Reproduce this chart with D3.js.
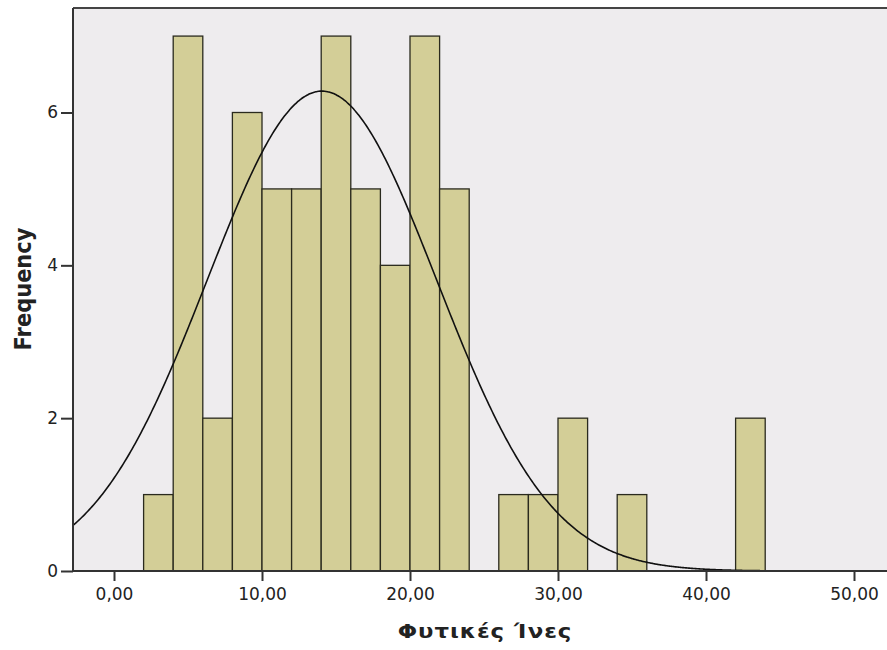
<!DOCTYPE html>
<html>
<head>
<meta charset="utf-8">
<script src="https://cdn.jsdelivr.net/npm/d3@7"></script>
<style>
  body { margin: 0; background: #fff; }
  text { font-family: "DejaVu Sans", Verdana, sans-serif; fill: #222; }
</style>
</head>
<body>
<div id="chart"></div>
<script>
const width = 887,
    height = 650;

// histogram bins (width 2) and counts
const binStarts = [2, 4, 6, 8, 10, 12, 14, 16, 18, 20, 22, 26, 28, 30, 34, 42];
const counts    = [1, 7, 2, 6, 5, 5, 7, 5, 4, 7, 5, 1, 1, 2, 1, 2];
const binWidth = 2;

// normal curve parameters
const mean = 14.05, sd = 7.75, n = 61;

const xTicks = [0, 10, 20, 30, 40, 50];
const yTicks = [0, 2, 4, 6];

const plot = { left: 73, top: 8, right: 900, bottom: 571 };

const x = d3.scaleLinear().domain([0, 50]).range([114, 854]);
const y = d3.scaleLinear().domain([0, 6]).range([571, 112.5]);

const svg = d3.select("#chart")
    .append("svg")
    .attr("width", width)
    .attr("height", height);

// plot background
svg.append("rect")
    .attr("x", plot.left)
    .attr("y", plot.top)
    .attr("width", plot.right - plot.left)
    .attr("height", plot.bottom - plot.top)
    .attr("fill", "#eeecee");

// top border
svg.append("line")
    .attr("x1", plot.left).attr("x2", plot.right)
    .attr("y1", plot.top).attr("y2", plot.top)
    .attr("stroke", "#444").attr("stroke-width", 2);

// bars
const bins = binStarts.map((s, i) => ({ x0: s, x1: s + binWidth, count: counts[i] }));
svg.append("g")
    .selectAll("rect")
    .data(bins)
    .join("rect")
    .attr("x", d => x(d.x0))
    .attr("y", d => y(d.count))
    .attr("width", d => x(d.x1) - x(d.x0))
    .attr("height", d => y(0) - y(d.count))
    .attr("fill", "#d3ce97")
    .attr("stroke", "#2a2a1e")
    .attr("stroke-width", 1.3);

// normal curve
const xMin = x.invert(plot.left), xMax = x.invert(plot.right);
const curvePts = d3.range(xMin, xMax, 0.1).map(v => {
    const z = (v - mean) / sd;
    return [v, n * binWidth / (sd * Math.sqrt(2 * Math.PI)) * Math.exp(-0.5 * z * z)];
});
svg.append("path")
    .datum(curvePts)
    .attr("d", d3.line().x(d => x(d[0])).y(d => y(d[1])).curve(d3.curveBasis))
    .attr("fill", "none")
    .attr("stroke", "#111")
    .attr("stroke-width", 1.6);

// axes
const fmt = d => d.toFixed(2).replace(".", ",");

const xAxis = svg.append("g")
    .attr("transform", `translate(0, ${plot.bottom})`)
    .call(d3.axisBottom(x).tickValues(xTicks).tickFormat(fmt).tickSize(10).tickPadding(7).tickSizeOuter(0));
xAxis.select(".domain").remove();
xAxis.append("line")
    .attr("x1", plot.left).attr("x2", plot.right)
    .attr("stroke", "#333").attr("stroke-width", 1.8);

const yAxis = svg.append("g")
    .attr("transform", `translate(${plot.left}, 0)`)
    .call(d3.axisLeft(y).tickValues(yTicks).tickFormat(d3.format("d")).tickSize(12).tickPadding(3).tickSizeOuter(0));
yAxis.select(".domain").remove();
yAxis.append("line")
    .attr("y1", plot.top).attr("y2", plot.bottom)
    .attr("stroke", "#333").attr("stroke-width", 2);

svg.selectAll(".tick line").attr("stroke", "#333").attr("stroke-width", 2);
svg.selectAll(".tick text")
    .style("font-family", "'DejaVu Sans', Verdana, sans-serif")
    .style("font-size", "17px")
    .attr("fill", "#2a2a2a");

// axis titles
svg.append("text")
    .attr("transform", "translate(485, 638) scale(1.2, 1)")
    .attr("text-anchor", "middle")
    .style("font-size", "19px")
    .style("font-weight", "bold")
    .style("letter-spacing", "0.8px")
    .attr("fill", "#1a1a1a")
    .text("Φυτικές Ίνες");

svg.append("text")
    .attr("transform", "translate(31, 289) scale(1.12, 1) rotate(-90)")
    .attr("text-anchor", "middle")
    .style("font-size", "21px")
    .style("font-weight", "bold")
    .attr("fill", "#1a1a1a")
    .text("Frequency");
</script>
</body>
</html>
